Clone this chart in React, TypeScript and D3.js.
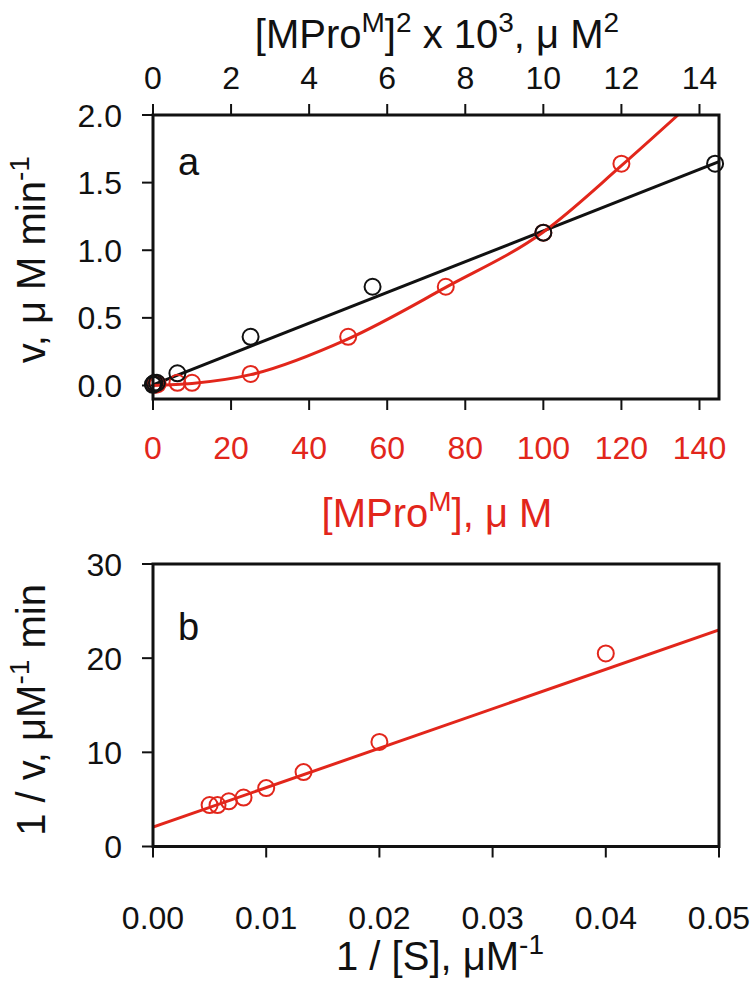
import React from "react";
import * as d3 from "d3";

// Panel a data
const redConc = [0.6, 1.2, 6.25, 10, 25, 50, 75, 100, 120];
const redV = [0.005, 0.01, 0.02, 0.02, 0.085, 0.36, 0.73, 1.13, 1.64];
const blackConcSq = [0.0004, 0.0014, 0.039, 0.1, 0.625, 2.5, 5.625, 10, 14.4];
const blackV = [0.005, 0.01, 0.02, 0.02, 0.09, 0.36, 0.73, 1.13, 1.64];
const redFitX = [0, 10, 25, 50, 75, 100, 120, 134.5];
const redFitY = [0, 0.015, 0.08, 0.345, 0.725, 1.135, 1.625, 2.0];
const blackFitX = [0, 14.5];
const blackFitY = [0.005, 1.655];
const bottomTicksA = [0, 20, 40, 60, 80, 100, 120, 140];
const topTicksA = [0, 2, 4, 6, 8, 10, 12, 14];
const leftTicksA = [0, 0.5, 1.0, 1.5, 2.0];

// Panel b data
const invS = [0.005, 0.0057, 0.0067, 0.008, 0.01, 0.0133, 0.02, 0.04];
const invV = [4.4, 4.4, 4.8, 5.2, 6.2, 7.9, 11.1, 20.5];
const bFitX = [0, 0.05];
const bFitY = [2.06, 23.0];
const bottomTicksB = [0, 0.01, 0.02, 0.03, 0.04, 0.05];
const leftTicksB = [0, 10, 20, 30];

const RED = "#e2261b";
const FONT = "'Liberation Sans', Arial, Helvetica, sans-serif";

export default function App() {
  const L = 153, R = 719;
  const xA = d3.scaleLinear().domain([0, 145]).range([L, R]);
  const xTop = d3.scaleLinear().domain([0, 14.5]).range([L, R]);
  const yA = d3.scaleLinear().domain([-0.1, 2.0]).range([399, 115]);
  const xB = d3.scaleLinear().domain([0, 0.05]).range([L, R]);
  const yB = d3.scaleLinear().domain([0, 30]).range([846.5, 564]);

  const redCurve = d3
    .line<number>()
    .x((_, i) => xA(redFitX[i]))
    .y((_, i) => yA(redFitY[i]))
    .curve(d3.curveMonotoneX)(redFitX);
  const blackLine = d3
    .line<number>()
    .x((_, i) => xTop(blackFitX[i]))
    .y((_, i) => yA(blackFitY[i]))(blackFitX);
  const bLine = d3
    .line<number>()
    .x((_, i) => xB(bFitX[i]))
    .y((_, i) => yB(bFitY[i]))(bFitX);

  const tickFs = 32;
  const titleFs = 40;
  const supFs = 28;
  const up = -16;
  const tl = 11;
  const r = 8;

  return (
    <svg width={750} height={983} style={{ position: "absolute", left: 0, top: 0, background: "#fff" }} fontFamily={FONT}>
      <defs>
        <clipPath id="clipA">
          <rect x={L} y={115} width={R - L} height={399 - 115} />
        </clipPath>
        <clipPath id="clipB">
          <rect x={L} y={564} width={R - L} height={846.5 - 564} />
        </clipPath>
      </defs>

      {/* ===== Panel a ===== */}
      <text x={437} y={48} fontSize={titleFs} textAnchor="middle" fill="#111">
        [MPro<tspan dy={up} fontSize={supFs}>M</tspan>
        <tspan dy={-up}>]</tspan>
        <tspan dy={up} fontSize={supFs}>2</tspan>
        <tspan dy={-up}> x 10</tspan>
        <tspan dy={up} fontSize={supFs}>3</tspan>
        <tspan dy={-up}>, μ M</tspan>
        <tspan dy={up} fontSize={supFs}>2</tspan>
      </text>
      {topTicksA.map((t) => (
        <g key={"tt" + t}>
          <line x1={xTop(t)} x2={xTop(t)} y1={115} y2={115 - tl} stroke="#111" strokeWidth={2} />
          <text x={xTop(t)} y={89} fontSize={tickFs} textAnchor="middle" fill="#111">
            {t}
          </text>
        </g>
      ))}
      {leftTicksA.map((t) => (
        <g key={"lt" + t}>
          <line x1={L} x2={L - tl} y1={yA(t)} y2={yA(t)} stroke="#111" strokeWidth={2} />
          <text x={122} y={yA(t) + 11.5} fontSize={tickFs} textAnchor="end" fill="#111">
            {d3.format(".1f")(t)}
          </text>
        </g>
      ))}
      {bottomTicksA.map((t) => (
        <g key={"bt" + t}>
          <line x1={xA(t)} x2={xA(t)} y1={399} y2={399 + tl} stroke="#111" strokeWidth={2} />
          <text x={xA(t)} y={459} fontSize={tickFs} textAnchor="middle" fill={RED}>
            {t}
          </text>
        </g>
      ))}
      <text x={437} y={527} fontSize={titleFs} textAnchor="middle" fill={RED}>
        [MPro<tspan dy={up} fontSize={supFs}>M</tspan>
        <tspan dy={-up}>], μ M</tspan>
      </text>
      <text transform={`translate(45, ${yA(0.93)}) rotate(-90)`} fontSize={titleFs} textAnchor="middle" fill="#111">
        v, μ M min<tspan dy={up} fontSize={supFs}>-1</tspan>
      </text>
      <text x={178} y={175} fontSize={38} fill="#111">a</text>

      <g clipPath="url(#clipA)">
        <path d={blackLine || ""} fill="none" stroke="#111" strokeWidth={3} />
        <path d={redCurve || ""} fill="none" stroke={RED} strokeWidth={3} />
      </g>
      {redConc.map((c, i) => (
        <circle key={"rc" + i} cx={xA(c)} cy={yA(redV[i])} r={r} fill="none" stroke={RED} strokeWidth={2} />
      ))}
      {blackConcSq.map((c, i) => (
        <circle key={"bc" + i} cx={xTop(c)} cy={yA(blackV[i])} r={r} fill="none" stroke="#111" strokeWidth={2} />
      ))}
      <rect x={L} y={115} width={R - L} height={399 - 115} fill="none" stroke="#111" strokeWidth={3} />

      {/* ===== Panel b ===== */}
      {leftTicksB.map((t) => (
        <g key={"lb" + t}>
          <line x1={L} x2={L - tl} y1={yB(t)} y2={yB(t)} stroke="#111" strokeWidth={2} />
          <text x={122} y={yB(t) + 11.5} fontSize={tickFs} textAnchor="end" fill="#111">
            {t}
          </text>
        </g>
      ))}
      {bottomTicksB.map((t) => (
        <g key={"bb" + t}>
          <line x1={xB(t)} x2={xB(t)} y1={846.5} y2={846.5 + tl} stroke="#111" strokeWidth={2} />
          <text x={xB(t)} y={929} fontSize={tickFs} textAnchor="middle" fill="#111">
            {d3.format(".2f")(t)}
          </text>
        </g>
      ))}
      <text x={440} y={970} fontSize={titleFs} textAnchor="middle" fill="#111">
        1 / [S], μM<tspan dy={up} fontSize={supFs}>-1</tspan>
      </text>
      <text transform={`translate(45, ${yB(14.5)}) rotate(-90)`} fontSize={titleFs} textAnchor="middle" fill="#111">
        1 / v, μM<tspan dy={up} fontSize={supFs}>-1</tspan>
        <tspan dy={-up}> min</tspan>
      </text>
      <text x={178} y={640} fontSize={38} fill="#111">b</text>

      <g clipPath="url(#clipB)">
        <path d={bLine || ""} fill="none" stroke={RED} strokeWidth={3} />
      </g>
      {invS.map((s, i) => (
        <circle key={"pb" + i} cx={xB(s)} cy={yB(invV[i])} r={r} fill="none" stroke={RED} strokeWidth={2} />
      ))}
      <rect x={L} y={564} width={R - L} height={846.5 - 564} fill="none" stroke="#111" strokeWidth={3} />
    </svg>
  );
}
